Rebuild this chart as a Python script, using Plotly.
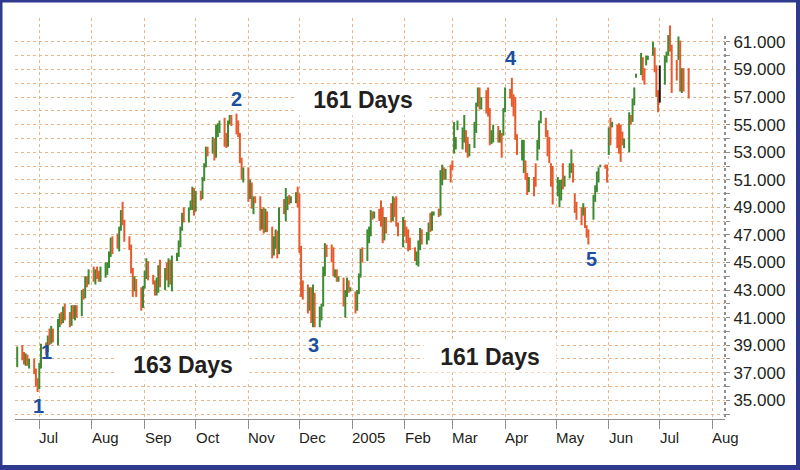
import pandas as pd
import plotly.graph_objects as go

# ---------------- data (prices in thousands, one line per month) ----------------
start_date = "2004-06-18"

open_k = [
    37.6, 38.8, 38.1, 37.8, 38.2, 37.7, 37.9, 37.1, 36.3,
    35.9, 37.5, 38.9, 38.6, 39.5, 39.2, 40.1, 39.5, 40.7, 41.1, 40.7, 41.6, 41.0, 40.5, 41.7, 41.2, 41.8, 41.2, 42.8, 42.5, 43.8, 43.5,
    44.3, 43.8, 44.3, 44.0, 43.9, 44.5, 44.8, 44.9, 45.6, 46.6, 47.0, 46.2, 47.4, 48.6, 48.0, 46.8, 46.1, 44.4, 43.0, 43.7, 42.8, 41.8,
    43.2, 44.2, 45.0, 43.9, 43.6, 42.8, 43.5, 44.6, 43.4, 44.4, 43.9, 45.1, 43.6, 45.3, 45.6, 46.4, 47.4, 48.4, 48.2, 48.9, 49.3, 50.2,
    48.8, 50.0, 49.7, 51.0, 52.0, 53.2, 53.0, 53.9, 52.7, 54.4, 54.9, 55.2, 54.2, 53.5, 55.1, 55.5, 55.3, 54.5, 54.3, 52.4, 51.2,
    51.7, 49.7, 50.6, 49.2, 49.6, 49.5, 47.6, 48.8, 47.4, 48.6, 47.5, 45.6, 46.6, 47.2, 45.7, 49.4, 48.7, 48.9, 49.6, 49.4, 49.7, 49.9,
    49.3, 46.0, 43.5, 43.2, 42.0, 42.9, 41.2, 42.5, 40.6, 41.6, 41.9, 44.5, 46.2, 45.8, 45.3, 44.3, 44.4, 43.8, 43.9, 42.1, 42.8, 43.6, 43.0,
    42.8, 41.6, 42.8, 44.0, 45.8, 45.2, 47.2, 47.4, 48.6, 48.4, 48.5, 48.2, 47.9, 46.7, 48.1, 49.0, 48.1, 49.6, 48.6, 47.9, 47.2,
    48.0, 47.3, 46.6, 46.1, 46.0, 45.3, 45.6, 46.4, 47.3, 46.6, 46.9, 47.8, 47.4, 48.5, 48.6, 48.5, 51.5, 51.9, 51.2, 51.6,
    52.3, 52.9, 53.3, 54.6, 53.4, 54.6, 54.5, 54.0, 52.9, 53.4, 55.0, 56.4, 57.5, 56.3, 57.3, 57.2, 55.9, 53.8, 54.4, 54.8, 54.0, 54.3, 54.3,
    56.0, 57.5, 58.0, 57.0, 57.0, 54.2, 52.6, 51.7, 52.3, 51.4, 50.2, 51.1, 52.0, 52.4, 53.7, 55.1, 55.4, 54.3, 53.8, 52.2, 51.9,
    49.8, 49.3, 49.6, 52.0, 50.6, 51.2, 51.6, 52.1, 49.9, 49.3, 48.9, 48.5, 48.9, 47.6, 47.3, 48.5, 49.4, 50.1, 50.8, 51.9, 52.0, 52.0,
    52.9, 55.3, 54.8, 54.9, 54.9, 54.8, 54.4, 53.7, 53.2, 55.7, 55.3, 56.5, 58.4, 58.7, 59.8, 59.0, 59.4, 59.7, 60.1, 60.5, 59.2, 57.3,
    56.8, 58.0, 59.6, 60.1, 61.8, 60.6, 59.5, 59.8, 60.9, 57.5, 59.0, 58.9,
]

high_k = [
    38.9, 39.0, 38.5, 38.4, 38.3, 38.0, 38.0, 37.3, 36.6,
    37.7, 39.1, 39.2, 39.7, 40.2, 40.4, 40.2, 40.9, 41.3, 41.4, 41.8, 42.0, 41.4, 41.9, 41.9, 41.9, 41.9, 43.0, 43.1, 44.0, 44.0, 44.5,
    44.7, 44.5, 44.7, 44.4, 44.7, 45.0, 45.0, 45.8, 46.8, 46.9, 47.1, 47.6, 48.8, 49.4, 48.1, 46.9, 46.3, 44.6, 44.0, 43.8, 43.2, 43.3,
    44.4, 45.3, 45.1, 44.1, 43.7, 43.9, 44.8, 45.2, 44.6, 45.0, 45.3, 45.2, 45.5, 45.7, 46.6, 47.6, 48.6, 49.0, 49.0, 49.5, 50.5, 50.4,
    50.2, 50.2, 51.2, 52.2, 53.4, 53.4, 54.1, 54.0, 55.0, 55.1, 55.3, 55.5, 54.4, 55.3, 55.7, 55.7, 55.8, 55.3, 54.4, 52.6, 51.9,
    51.9, 51.0, 50.8, 49.8, 49.8, 49.8, 48.9, 49.0, 48.9, 48.7, 47.6, 46.9, 47.4, 47.3, 49.0, 49.6, 50.4, 49.8, 49.9, 49.8, 50.1, 50.5,
    50.0, 46.2, 43.7, 43.4, 43.2, 43.2, 43.4, 42.8, 41.8, 42.0, 44.7, 46.4, 46.3, 46.3, 46.1, 44.5, 44.5, 44.0, 43.9, 43.0, 43.9, 43.7, 43.2,
    42.9, 43.0, 44.2, 46.0, 46.1, 47.4, 47.6, 48.8, 48.7, 48.7, 48.9, 49.5, 49.0, 48.3, 48.3, 49.3, 49.8, 49.7, 49.8, 47.9, 48.3,
    48.1, 47.6, 47.4, 46.8, 46.1, 45.8, 46.6, 47.5, 47.4, 47.2, 47.9, 48.6, 48.7, 48.7, 48.9, 51.7, 52.1, 51.9, 51.8, 52.1,
    52.4, 55.2, 54.1, 55.3, 54.8, 55.7, 54.6, 54.1, 53.6, 55.2, 56.6, 57.7, 57.7, 57.0, 57.5, 57.7, 56.2, 54.6, 55.0, 54.9, 54.6, 54.4, 56.2,
    57.7, 57.6, 58.4, 57.2, 57.0, 54.3, 53.9, 53.9, 52.4, 51.5, 51.2, 51.2, 52.2, 53.9, 55.3, 56.0, 55.5, 54.6, 54.1, 52.2, 52.0,
    51.2, 51.0, 51.0, 52.2, 51.3, 52.2, 53.2, 52.2, 50.0, 49.4, 49.0, 49.3, 49.0, 47.7, 47.4, 49.9, 50.6, 51.6, 51.9, 52.1, 52.1, 52.1,
    54.8, 55.5, 55.2, 55.0, 55.1, 55.0, 54.5, 54.0, 55.9, 55.7, 56.9, 57.7, 58.7, 60.2, 59.9, 59.1, 60.0, 60.0, 61.0, 60.6, 59.3, 57.5,
    59.3, 60.0, 60.3, 61.5, 62.2, 60.8, 59.7, 61.4, 61.1, 59.1, 59.1, 59.1,
]

low_k = [
    37.4, 37.9, 37.6, 37.5, 37.5, 37.3, 36.9, 36.0, 35.6,
    35.8, 37.3, 38.3, 38.5, 39.0, 39.1, 39.2, 39.0, 40.3, 40.5, 40.6, 40.8, 40.3, 40.4, 40.9, 40.8, 41.0, 41.1, 42.3, 42.4, 43.2, 43.4,
    43.6, 43.4, 43.8, 43.6, 43.6, 43.9, 44.1, 44.6, 45.4, 45.6, 46.0, 45.8, 47.3, 47.7, 46.5, 45.9, 44.2, 42.5, 42.9, 42.5, 41.5, 41.7,
    43.1, 43.8, 43.7, 43.4, 42.6, 42.6, 42.8, 43.2, 43.0, 43.7, 43.2, 43.4, 42.9, 45.1, 45.4, 46.1, 47.3, 47.9, 47.9, 48.8, 48.8, 48.4,
    48.7, 49.5, 49.6, 50.9, 51.9, 52.7, 52.9, 52.4, 52.6, 54.1, 54.4, 53.4, 53.3, 53.4, 55.0, 54.9, 54.3, 54.1, 52.2, 51.0, 50.8,
    49.4, 49.6, 48.9, 48.5, 49.3, 47.3, 47.4, 47.1, 47.2, 47.2, 45.3, 45.5, 46.0, 45.3, 45.6, 48.5, 48.0, 48.8, 49.2, 49.3, 49.3, 49.0,
    45.7, 42.5, 42.3, 41.3, 41.5, 40.6, 40.3, 40.3, 40.3, 40.8, 41.8, 44.0, 45.4, 45.0, 44.0, 43.9, 43.6, 43.6, 41.8, 41.0, 42.5, 42.8, 42.9,
    41.3, 41.5, 42.7, 43.9, 45.0, 45.1, 46.4, 46.9, 48.1, 48.2, 48.0, 47.6, 46.4, 46.6, 47.1, 47.9, 48.0, 48.3, 47.6, 46.9, 46.1,
    46.9, 46.4, 45.8, 45.9, 45.1, 44.8, 44.7, 45.9, 46.3, 46.3, 46.6, 47.2, 47.3, 48.4, 48.3, 48.4, 50.6, 51.0, 51.0, 50.8,
    51.7, 52.9, 53.2, 54.6, 53.2, 53.7, 53.0, 52.6, 52.7, 53.3, 54.4, 56.3, 56.1, 56.1, 55.8, 55.6, 53.5, 53.6, 53.7, 53.7, 53.7, 52.6, 54.2,
    55.9, 56.9, 56.3, 55.6, 53.9, 52.8, 52.4, 51.5, 51.0, 49.9, 50.1, 49.8, 50.5, 52.4, 53.2, 55.1, 54.1, 52.7, 52.2, 50.5, 49.2,
    49.8, 49.0, 49.5, 50.3, 50.5, 51.1, 51.5, 50.8, 48.6, 48.1, 47.7, 48.4, 47.5, 46.8, 46.3, 48.1, 49.4, 50.1, 50.8, 51.9, 51.8, 50.8,
    52.8, 53.5, 54.8, 53.3, 52.9, 52.3, 53.5, 53.3, 53.0, 55.0, 55.2, 56.4, 58.4, 58.6, 58.2, 57.9, 59.3, 59.7, 60.0, 58.8, 57.0, 55.9,
    56.6, 57.9, 59.5, 60.0, 60.3, 57.3, 58.2, 59.7, 57.4, 57.3, 57.4, 56.9,
]

close_k = [
    38.7, 38.1, 37.8, 38.2, 37.7, 37.9, 37.1, 36.3, 35.9,
    37.5, 38.9, 38.6, 39.5, 39.2, 40.1, 39.5, 40.7, 41.1, 40.7, 41.6, 41.0, 40.5, 41.7, 41.2, 41.8, 41.2, 42.8, 42.5, 43.8, 43.5, 44.3,
    43.8, 44.3, 44.0, 43.9, 44.5, 44.8, 44.9, 45.6, 46.6, 45.9, 46.2, 47.4, 48.6, 48.0, 46.8, 46.1, 44.4, 43.0, 43.7, 42.8, 41.8, 43.2,
    44.2, 45.0, 43.9, 43.6, 42.8, 43.5, 44.6, 43.4, 44.4, 43.9, 45.1, 43.6, 45.3, 45.6, 46.4, 47.4, 48.4, 48.2, 48.9, 49.3, 50.2, 48.8,
    50.0, 49.7, 51.0, 52.0, 53.2, 53.0, 53.9, 52.7, 54.8, 54.9, 55.2, 53.6, 53.5, 55.1, 55.5, 55.3, 54.5, 54.3, 52.4, 51.2, 51.7,
    49.7, 50.6, 49.2, 49.6, 49.5, 47.6, 48.7, 47.4, 48.6, 47.5, 45.6, 46.6, 47.2, 45.7, 48.8, 48.7, 50.1, 49.6, 49.4, 49.7, 49.9, 49.3,
    46.0, 42.9, 42.6, 42.0, 42.9, 41.2, 43.0, 40.6, 41.6, 41.9, 44.5, 46.2, 45.8, 45.3, 44.3, 44.4, 43.8, 43.9, 42.1, 42.8, 43.6, 43.0, 43.1,
    41.6, 42.8, 44.0, 45.8, 45.2, 47.2, 47.4, 48.6, 48.4, 48.5, 48.2, 47.9, 46.7, 48.1, 47.3, 48.1, 49.6, 48.6, 47.9, 47.2, 48.0,
    47.3, 46.6, 46.1, 46.0, 45.3, 45.6, 46.4, 47.3, 46.6, 46.9, 47.8, 47.4, 48.5, 48.6, 48.5, 51.5, 51.9, 51.2, 51.6, 51.0,
    51.9, 55.0, 54.0, 55.2, 54.6, 55.5, 53.3, 52.9, 53.4, 55.0, 56.4, 57.5, 56.3, 56.8, 56.0, 55.9, 53.8, 54.4, 54.8, 54.0, 54.3, 52.9, 56.0,
    57.5, 57.1, 56.6, 55.9, 54.2, 53.1, 53.7, 53.6, 51.2, 50.2, 50.9, 50.0, 50.8, 53.7, 55.1, 55.8, 54.3, 53.0, 52.5, 50.8, 49.5,
    51.0, 50.7, 50.8, 50.6, 51.1, 52.0, 53.0, 51.0, 48.9, 48.3, 47.9, 49.2, 47.7, 47.0, 46.6, 49.7, 50.4, 51.4, 51.7, 52.0, 51.9, 51.0,
    54.6, 53.8, 55.1, 53.6, 53.2, 52.6, 53.7, 53.8, 55.7, 55.3, 56.7, 57.5, 58.6, 60.0, 58.4, 58.1, 59.9, 59.9, 60.9, 59.0, 57.3, 56.2,
    58.8, 59.8, 60.2, 61.3, 60.5, 58.6, 58.4, 61.2, 57.7, 58.8, 58.1, 57.4,
]

black_bar_date = "2005-07-01"

month_ticks = ["2004-07-01", "2004-08-01", "2004-09-01", "2004-10-01", "2004-11-01",
               "2004-12-01", "2005-01-01", "2005-02-01", "2005-03-01", "2005-04-01",
               "2005-05-01", "2005-06-01", "2005-07-01", "2005-08-01"]
month_labels = ["Jul", "Aug", "Sep", "Oct", "Nov", "Dec", "2005", "Feb", "Mar",
                "Apr", "May", "Jun", "Jul", "Aug"]

y_ticks = [34000, 35000, 36000, 37000, 38000, 39000, 40000, 41000, 42000, 43000,
           44000, 45000, 46000, 47000, 48000, 49000, 50000, 51000, 52000, 53000,
           54000, 55000, 56000, 57000, 58000, 59000, 60000, 61000]
y_labels = ["", "35.000", "", "37.000", "", "39.000", "", "41.000", "", "43.000",
            "", "45.000", "", "47.000", "", "49.000", "", "51.000", "", "53.000",
            "", "55.000", "", "57.000", "", "59.000", "", "61.000"]

wave_labels = ["1", "1", "2", "3", "4", "5"]
cycle_labels = ["163 Days", "161 Days", "161 Days"]

# ---------------- figure ----------------
W, H = 800, 470
ML, MR, MT, MB = 15, 75, 18, 51
PW, PH = W - ML - MR, H - MT - MB


def px(xp):
    return (xp - ML) / PW


def py(yp):
    return (H - MB - yp) / PH


dates = pd.bdate_range(start=start_date, periods=len(close_k))
df = pd.DataFrame({
    "date": dates,
    "open": [v * 1000 for v in open_k],
    "high": [v * 1000 for v in high_k],
    "low": [v * 1000 for v in low_k],
    "close": [v * 1000 for v in close_k],
})
is_black = df["date"] == pd.Timestamp(black_bar_date)
main = df[~is_black]
blk = df[is_black]

GREEN = "#3c8b32"
RED = "#e8592b"
GRID = "#e8b68a"
AXIS = "#8f8f8f"
TEXT = "#231f20"
BLUE = "#1c4f9c"
NAVY = "#2f3a8f"
FONT = "Liberation Sans, Arial, sans-serif"

fig = go.Figure()
fig.add_trace(go.Ohlc(
    x=main["date"], open=main["open"], high=main["high"], low=main["low"], close=main["close"],
    increasing=dict(line=dict(color=GREEN, width=2)),
    decreasing=dict(line=dict(color=RED, width=2)),
    tickwidth=0.5, showlegend=False, hoverinfo="skip",
))
fig.add_trace(go.Ohlc(
    x=blk["date"], open=blk["open"], high=blk["high"], low=blk["low"], close=blk["close"],
    increasing=dict(line=dict(color="#111111", width=2)),
    decreasing=dict(line=dict(color="#111111", width=2)),
    tickwidth=0.5, showlegend=False, hoverinfo="skip",
))

annotations = []
# month labels, left-aligned at the month tick
for d, lab in zip(month_ticks, month_labels):
    annotations.append(dict(
        x=d, xref="x", y=0, yref="paper", text=lab, showarrow=False,
        xanchor="left", yanchor="middle", xshift=-2, yshift=-18,
        font=dict(family=FONT, size=15, color=TEXT),
    ))

wave_pos = [(38, 406), (46.5, 352), (236.5, 98.5), (313.5, 345), (511, 58), (591, 259)]
for lab, (xp, yp) in zip(wave_labels, wave_pos):
    annotations.append(dict(
        x=px(xp), y=py(yp), xref="paper", yref="paper", text="<b>%s</b>" % lab,
        showarrow=False, xanchor="center", yanchor="middle",
        font=dict(family=FONT, size=20, color=BLUE),
    ))

cycle_pos = [(183, 365), (363, 100), (490, 357)]
for lab, (xp, yp) in zip(cycle_labels, cycle_pos):
    annotations.append(dict(
        x=px(xp), y=py(yp), xref="paper", yref="paper", text="<b>%s</b>" % lab,
        showarrow=False, xanchor="center", yanchor="middle",
        bgcolor="white", width=130, height=28,
        font=dict(family=FONT, size=23, color=TEXT),
    ))

shapes = [
    # dotted right axis line
    dict(type="line", xref="paper", yref="paper", x0=1, x1=1, y0=py(417), y1=py(33),
         line=dict(color=AXIS, width=2, dash="dot")),
    # frame around the picture
    dict(type="rect", xref="paper", yref="paper", x0=px(0), x1=px(2.5), y0=py(H), y1=py(0),
         fillcolor=NAVY, line=dict(width=0)),
    dict(type="rect", xref="paper", yref="paper", x0=px(0), x1=px(W), y0=py(2.5), y1=py(0),
         fillcolor=NAVY, line=dict(width=0)),
    dict(type="rect", xref="paper", yref="paper", x0=px(W - 4), x1=px(W), y0=py(H), y1=py(0),
         fillcolor=NAVY, line=dict(width=0)),
    dict(type="rect", xref="paper", yref="paper", x0=px(0), x1=px(W), y0=py(H), y1=py(H - 5),
         fillcolor=NAVY, line=dict(width=0)),
]

fig.update_layout(
    width=W, height=H,
    margin=dict(l=ML, r=MR, t=MT, b=MB, pad=0),
    paper_bgcolor="white", plot_bgcolor="white",
    font=dict(family=FONT, color=TEXT),
    showlegend=False,
    annotations=annotations,
    shapes=shapes,
    xaxis=dict(
        type="date", range=["2004-06-16 17:00", "2005-08-08 09:00"],
        tickvals=month_ticks, showticklabels=False,
        ticks="outside", ticklen=9, tickcolor=AXIS, tickwidth=1,
        showline=True, linecolor=AXIS, linewidth=1,
        showgrid=True, gridcolor=GRID, griddash="dot", gridwidth=1,
        zeroline=False, rangeslider=dict(visible=False), fixedrange=True,
    ),
    yaxis=dict(
        side="right", range=[33640, 62740],
        tickvals=y_ticks, ticktext=y_labels,
        ticks="outside", ticklen=4, tickcolor=AXIS, tickwidth=1,
        showline=False,
        showgrid=True, gridcolor=GRID, griddash="dot", gridwidth=1,
        zeroline=False, fixedrange=True,
        tickfont=dict(family=FONT, size=17, color=TEXT),
    ),
)

fig.write_html("out.html")
